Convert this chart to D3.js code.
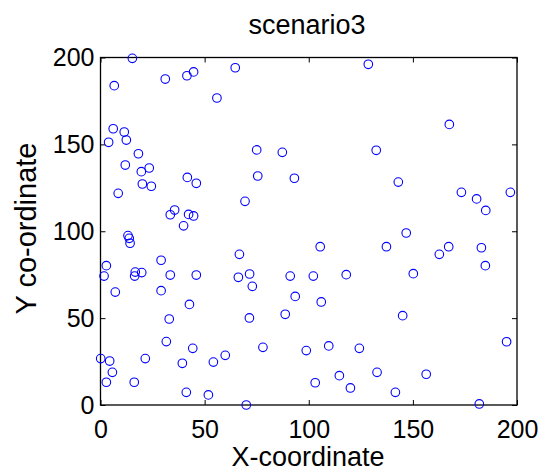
<!DOCTYPE html>
<html><head><meta charset="utf-8">
<script src="https://cdn.jsdelivr.net/npm/d3@7"></script>
<style>body{margin:0;background:#fff}svg{display:block}text{font-family:Arial,"Liberation Sans",sans-serif;fill:#000}</style>
</head><body><svg id="c" width="548" height="472"></svg>
<script>
const titleText = "scenario3";
const xLabel = "X-coordinate";
const yLabel = "Y co-ordinate";
const xTicks = [0, 50, 100, 150, 200];
const yTicks = [0, 50, 100, 150, 200];
const xVals = [15.3,6.6,31.1,41.5,44.7,64.7,55.9,6.1,11.4,12.4,3.9,18.2,11.9,19.6,23.4,20.1,24.4,8.5,41.7,46,
  75,87.3,75.5,93.1,69.4,35.6,33.5,42.3,44.7,39.9,128.6,167.5,132.4,143,173.3,180.6,185,196.8,
  13.2,13.8,14.2,2.8,1.7,7.1,16.7,16.4,19.8,29.1,33.5,46,29.1,42.7,33,31.6,44.3,39.3,0.1,4.4,5.7,2.8,
  21.5,16.2,41.2,51.8,54.2,59.9,70,66.7,66.2,71.6,72.9,71.5,78,88.7,91.1,93.5,98.8,
  105.5,102.2,118,106,109.6,124.3,103.1,114.7,120,132.8,141.6,156.4,137.3,146.8,150.2,145.1,162.7,167.2,182.9,184.8,195,181.9];
const yVals = [199.5,183.8,187.6,189.5,191.7,194.1,176.7,159,157.1,152.5,151.2,144.6,138.1,134.3,136.4,127.2,125.9,121.8,131,127.6,
  146.8,145.4,131.8,130.5,117.2,112.2,109.5,109.7,108.8,103.1,196.1,161.5,146.6,128.3,122.4,118.6,112,122.4,
  97.5,95.9,93.1,80.2,74.2,65,76.5,74.2,76.2,83.3,74.8,74.8,65.8,57.9,49.5,36.5,32.6,24,26.7,25.3,18.8,13.1,
  26.7,13.1,7.3,5.8,24.7,28.6,0,86.7,73.5,75.4,68.3,50.1,33.2,52.2,74.2,62.5,31.3,
  91.1,74.2,75,59.3,34,32.6,12.8,16.9,9.8,18.8,7.3,17.7,91.1,99,75.6,51.4,86.7,91.1,90.5,80.2,36.4,0.6];

const svg = d3.select("#c");
const L = 100.5, R = 517, T = 57.5, B = 405;
const x = d3.scaleLinear().domain([0, 200]).range([L, R]);
const y = d3.scaleLinear().domain([0, 200]).range([B, T]);
const tl = 5;

// frame
svg.append("rect").attr("x", L).attr("y", T).attr("width", R - L).attr("height", B - T)
  .attr("fill", "none").attr("stroke", "#000").attr("stroke-width", 1.3);

function styleAxis(g, fs) {
  g.select(".domain").remove();
  g.selectAll(".tick line").attr("stroke", "#000").attr("stroke-width", 1);
  g.selectAll(".tick text").style("font-size", fs + "px").attr("fill", "#000");
}
// bottom axis (ticks inward)
svg.append("g").attr("transform", `translate(0,${B})`)
  .call(d3.axisBottom(x).tickValues(xTicks).tickSizeInner(-tl).tickSizeOuter(0).tickPadding(15))
  .call(g => styleAxis(g, 25));
// top ticks
svg.append("g").attr("transform", `translate(0,${T})`)
  .call(d3.axisTop(x).tickValues(xTicks).tickSizeInner(-tl).tickSizeOuter(0).tickFormat(""))
  .call(g => styleAxis(g, 25));
// left axis
svg.append("g").attr("transform", `translate(${L},0)`)
  .call(d3.axisLeft(y).tickValues(yTicks).tickSizeInner(-tl).tickSizeOuter(0).tickPadding(6))
  .call(g => styleAxis(g, 25));
// right ticks
svg.append("g").attr("transform", `translate(${R},0)`)
  .call(d3.axisRight(y).tickValues(yTicks).tickSizeInner(-tl).tickSizeOuter(0).tickFormat(""))
  .call(g => styleAxis(g, 25));

// points
svg.append("g").selectAll("circle").data(xVals.map((v, i) => [v, yVals[i]])).join("circle")
  .attr("cx", d => x(d[0])).attr("cy", d => y(d[1])).attr("r", 4.3)
  .attr("fill", "none").attr("stroke", "#0000ff").attr("stroke-width", 1.1);

// texts
svg.append("text").attr("x", 307).attr("y", 34).attr("text-anchor", "middle")
  .style("font-size", "27px").text(titleText);
svg.append("text").attr("x", 308).attr("y", 466).attr("text-anchor", "middle")
  .style("font-size", "27px").text(xLabel);
svg.append("text").attr("transform", "translate(36,228.5) rotate(-90)").attr("text-anchor", "middle")
  .style("font-size", "29px").text(yLabel);
</script></body></html>
